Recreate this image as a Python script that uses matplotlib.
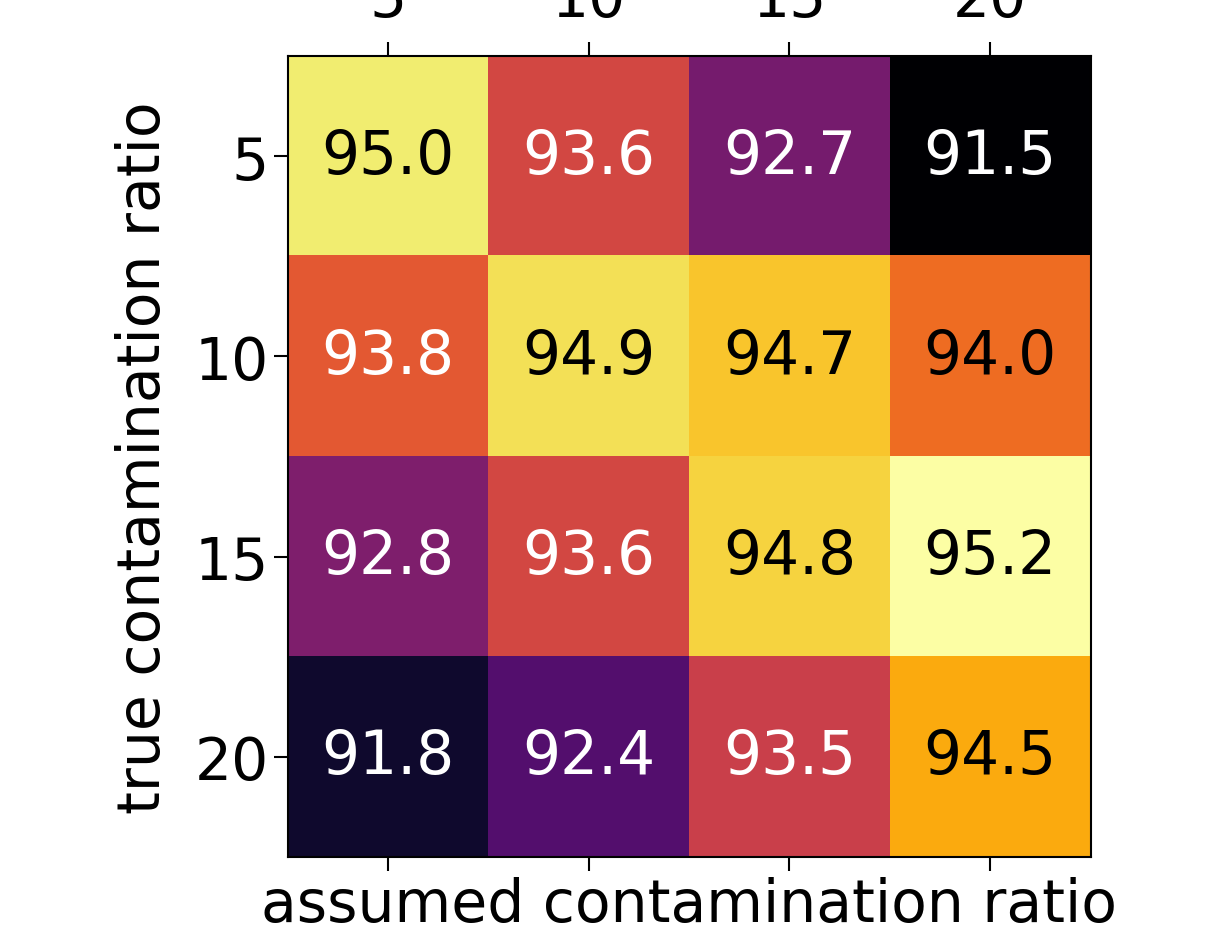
import numpy as np
from matplotlib import pyplot as plt

ratios = [5, 10, 15, 20]
acc = np.array([
    [95.0, 93.6, 92.7, 91.5],
    [93.8, 94.9, 94.7, 94.0],
    [92.8, 93.6, 94.8, 95.2],
    [91.8, 92.4, 93.5, 94.5],
])

fig = plt.figure(figsize=(12.09, 9.28), dpi=100)
ax = fig.add_axes([0.238, 0.0754, 0.664, 0.8632])
ax.imshow(acc, cmap='inferno', aspect='auto')

for i in range(len(ratios)):
    for j in range(len(ratios)):
        v = acc[i, j]
        c = 'k' if v >= 93.9 else 'w'
        ax.text(j, i, '%.1f' % v, ha='center', va='center', color=c, fontsize=43)

ax.set_xticks(range(len(ratios)))
ax.set_yticks(range(len(ratios)))
ax.set_xticklabels(ratios)
ax.set_yticklabels(ratios)
ax.tick_params(axis='x', top=True, bottom=True, labeltop=True, labelbottom=False, pad=10)
ax.tick_params(labelsize=42, length=10, width=1.5)
for s in ax.spines.values():
    s.set_linewidth(1.5)
ax.set_xlabel('assumed contamination ratio', fontsize=42)
ax.set_ylabel('true contamination ratio', fontsize=42, labelpad=16)

plt.savefig('out.png', dpi=100)
